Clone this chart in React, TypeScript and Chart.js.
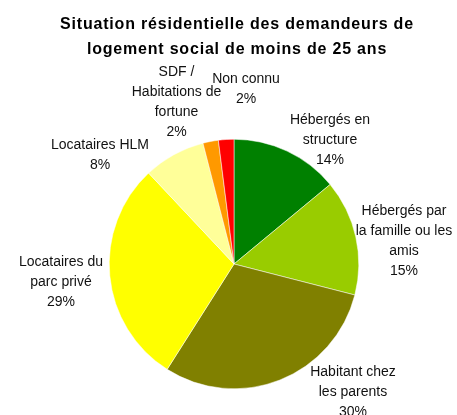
import React, { useEffect, useRef } from "react";
import { Chart, registerables } from "chart.js";

Chart.register(...registerables);

const titleLines = [
  "Situation résidentielle des demandeurs de",
  "logement social de moins de 25 ans",
];

const categories = [
  ["Hébergés en", "structure"],
  ["Hébergés par", "la famille ou les", "amis"],
  ["Habitant chez", "les parents"],
  ["Locataires du", "parc privé"],
  ["Locataires HLM"],
  ["SDF /", "Habitations de", "fortune"],
  ["Non connu"],
];

const values = [14, 15, 30, 29, 8, 2, 2];

const colors = ["#008000", "#99CC00", "#808000", "#FFFF00", "#FFFF99", "#FF9900", "#FF0000"];

// label block centre offsets from the pie centre (style only)
const labelOffsets = [
  [96, -123.5],
  [170, -22.5],
  [119, 128],
  [-173, 18],
  [-134, -109],
  [-57.5, -161.5],
  [12, -175],
];

const labelPlugin = {
  id: "customLabels",
  beforeDraw(chart: any) {
    const ctx = chart.ctx;
    ctx.save();
    ctx.fillStyle = "#000";
    ctx.font = "bold 16px 'Liberation Sans', Arial, sans-serif";
    ctx.textAlign = "center";
    ctx.textBaseline = "alphabetic";
    try { (ctx as any).letterSpacing = "0.8px"; } catch (e) {}
    ctx.fillText(titleLines[0], 237, 29);
    ctx.fillText(titleLines[1], 237, 54);
    ctx.restore();
  },
  afterDatasetsDraw(chart: any) {
    const ctx = chart.ctx;
    const meta = chart.getDatasetMeta(0);
    const total = values.reduce((a, b) => a + b, 0);
    ctx.save();
    ctx.fillStyle = "#111";
    ctx.font = "14px 'Liberation Sans', Arial, sans-serif";
    ctx.textAlign = "center";
    ctx.textBaseline = "middle";
    meta.data.forEach((arc: any, i: number) => {
      const lines = [...categories[i], Math.round((values[i] / total) * 100) + "%"];
      const lh = 20;
      const cx = arc.x + labelOffsets[i][0];
      const cy = arc.y + labelOffsets[i][1];
      const startY = cy - ((lines.length - 1) * lh) / 2;
      lines.forEach((t, j) => ctx.fillText(t, cx, startY + j * lh));
    });
    ctx.restore();
  },
};

export default function App() {
  const ref = useRef<HTMLCanvasElement>(null);
  useEffect(() => {
    document.body.style.margin = "0";
    const chart = new Chart(ref.current!, {
      type: "pie",
      data: {
        labels: categories.map((c) => c.join(" ")),
        datasets: [
          {
            data: values,
            backgroundColor: colors,
            borderColor: "#ffffff",
            borderWidth: 0.5,
          },
        ],
      },
      options: {
        animation: false,
        responsive: false,
        layout: { padding: { left: 109, right: 98, top: 139, bottom: 26 } },
        plugins: {
          legend: { display: false },
          tooltip: { enabled: false },
          title: { display: false },
        },
      },
      plugins: [labelPlugin],
    });
    return () => chart.destroy();
  }, []);
  return (
    <div style={{ width: 457, height: 415, background: "#fff" }}>
      <canvas ref={ref} width={457} height={415} />
    </div>
  );
}
